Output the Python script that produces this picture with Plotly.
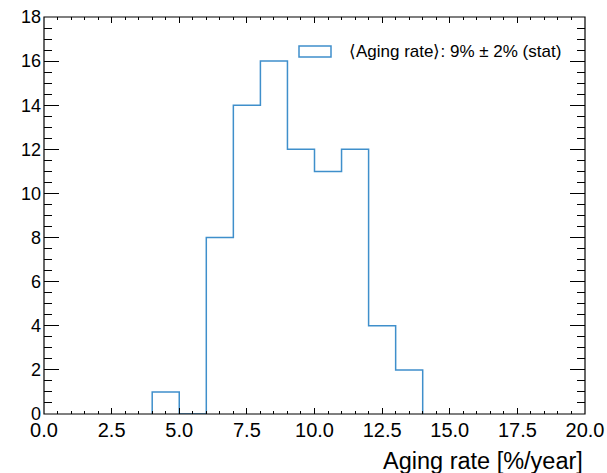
import plotly.graph_objects as go

# Data: histogram of aging rates (bin edges in %/year, counts per bin)
bin_edges = [4, 5, 6, 7, 8, 9, 10, 11, 12, 13, 14]
counts = [1, 0, 8, 14, 16, 12, 11, 12, 4, 2]
x_ticks = [0.0, 2.5, 5.0, 7.5, 10.0, 12.5, 15.0, 17.5, 20.0]
y_ticks = [0, 2, 4, 6, 8, 10, 12, 14, 16, 18]
legend_label = "⟨Aging rate⟩: 9% ± 2% (stat)"
x_title = "Aging rate [%/year]"

COLOR = "#3f8fcb"
FONT = "Liberation Sans, Arial, sans-serif"

xs = [bin_edges[0]] + bin_edges
ys = [0] + counts + [0]

fig = go.Figure()
fig.add_trace(go.Scatter(x=xs, y=ys, mode="lines", line=dict(color=COLOR, width=1.5, shape="hv"),
                         showlegend=False, hoverinfo="skip", cliponaxis=False))
# dummy trace for mirrored axes
fig.add_trace(go.Scatter(x=[None], y=[None], xaxis="x2", yaxis="y2", showlegend=False))

common_x = dict(range=[0, 20], tickvals=x_ticks, showline=False, zeroline=False, showgrid=False,
                automargin=False,
                ticks="inside", ticklen=6, tickwidth=1, tickcolor="black",
                minor=dict(dtick=0.5, ticks="inside", ticklen=3, tickwidth=1, tickcolor="black", showgrid=False))
common_y = dict(range=[0, 18], tickvals=y_ticks, showline=False, zeroline=False, showgrid=False,
                automargin=False,
                ticks="inside", ticklen=15, tickwidth=1, tickcolor="black",
                minor=dict(dtick=0.5, ticks="inside", ticklen=8, tickwidth=1, tickcolor="black", showgrid=False))

fig.update_layout(
    width=607, height=473,
    autosize=False,
    margin=dict(l=44, r=22, t=17, b=59, pad=0, autoexpand=False),
    paper_bgcolor="white", plot_bgcolor="white",
    font=dict(family=FONT, color="black"),
    xaxis=dict(**common_x, tickformat=".1f", tickfont=dict(size=20), ticklabelstandoff=2),
    yaxis=dict(**common_y, tickfont=dict(size=18), ticklabelstandoff=2),
    xaxis2=dict(**common_x, overlaying="x", side="top", anchor="y", showticklabels=False),
    yaxis2=dict(**common_y, overlaying="y", side="right", anchor="x", showticklabels=False),
    shapes=[
        dict(type="rect", xref="paper", yref="paper", x0=0, x1=1, y0=0, y1=1,
             line=dict(color="black", width=1.2), fillcolor="rgba(0,0,0,0)", layer="above"),
        dict(type="rect", xref="paper", yref="paper",
             x0=(299 - 44) / 541, x1=(331 - 44) / 541,
             y0=(414 - 57) / 397, y1=(414 - 46) / 397,
             line=dict(color=COLOR, width=1.5), fillcolor="rgba(0,0,0,0)"),
    ],
    annotations=[
        dict(text=legend_label, xref="paper", yref="paper", x=(347 - 44) / 541, y=(414 - 52) / 397,
             xanchor="left", yanchor="middle", showarrow=False, font=dict(size=17, family=FONT)),
        dict(text=x_title, xref="paper", yref="paper", x=1.0, y=-0.08,
             xanchor="right", yanchor="top", showarrow=False, font=dict(size=23.5, family=FONT)),
    ],
)

fig.write_html("out.html")
